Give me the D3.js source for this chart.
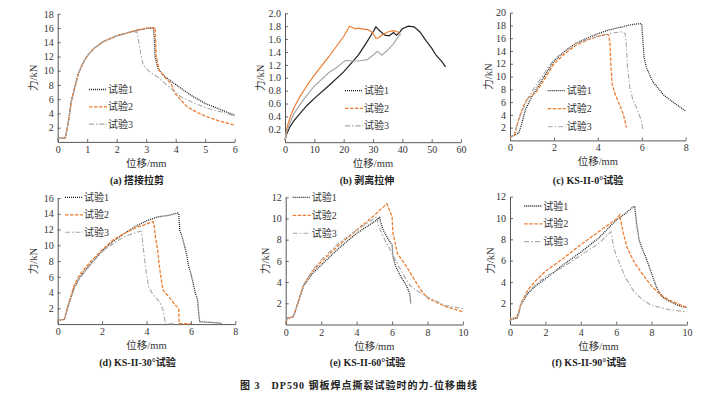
<!DOCTYPE html>
<html>
<head>
<meta charset="utf-8">
<script src="https://cdn.jsdelivr.net/npm/d3@7/dist/d3.min.js"></script>
<style>
  body { margin: 0; background: #fff; }
  svg { display: block; }
  text { font-family: "Liberation Serif", "Noto Sans CJK SC", serif; fill: #333; }
  .cap { font-weight: bold; }
</style>
</head>
<body>
<div id="fig"></div>
<script>
// ---- data ----
var seriesNames = ["试验1", "试验2", "试验3"];
var panelTitles = ["(a) 搭接拉剪", "(b) 剥离拉伸", "(c) KS-II-0°试验",
                   "(d) KS-II-30°试验", "(e) KS-II-60°试验", "(f) KS-II-90°试验"];
var figTitle = "图 3　DP590 钢板焊点撕裂试验时的力-位移曲线";
var xLabel = "位移/mm";
var yLabel = "力/kN";

var xTicksA = [0, 1, 2, 3, 4, 5, 6],  yTicksA = [2, 4, 6, 8, 10, 12, 14, 16, 18];
var xTicksB = [0, 10, 20, 30, 40, 50, 60], yTicksB = [0.2, 0.4, 0.6, 0.8, 1.0, 1.2, 1.4, 1.6, 1.8, 2.0];
var xTicksC = [0, 2, 4, 6, 8],        yTicksC = [2, 4, 6, 8, 10, 12, 14, 16, 18, 20];
var xTicksD = [0, 2, 4, 6, 8],        yTicksD = [2, 4, 6, 8, 10, 12, 14, 16];
var xTicksE = [0, 2, 4, 6, 8, 10],    yTicksE = [2, 4, 6, 8, 10, 12];
var xTicksF = [0, 2, 4, 6, 8, 10],    yTicksF = [2, 4, 6, 8, 10, 12];

// (a) lap shear
var a1 = [[0,0.5],[0.26,0.55],[0.35,2.5],[0.47,5.9],[0.6,8],[0.7,9.6],[0.85,11],[1,12.1],[1.25,13.2],[1.55,14.1],[2,14.9],[2.34,15.3],[2.7,15.7],[3.0,15.95],[3.25,16.05],[3.28,14],[3.3,12],[3.4,10.3],[3.6,9.3],[3.92,8.3],[4.5,6.6],[5,5.4],[5.28,4.95],[5.6,4.4],[6,3.75]];
var a2 = [[0,0.5],[0.26,0.55],[0.35,2.5],[0.47,5.9],[0.6,8],[0.7,9.6],[0.85,11],[1,12.1],[1.25,13.2],[1.55,14.1],[2,14.9],[2.34,15.3],[2.7,15.7],[3.0,15.95],[3.3,16.05],[3.32,14],[3.34,12],[3.45,10],[3.6,9.2],[3.86,8.1],[3.92,7.3],[4.0,6.7],[4.37,5.0],[4.7,4.2],[5.05,3.55],[5.5,2.9],[6,2.35]];
var a3 = [[0,0.5],[0.26,0.55],[0.35,2.5],[0.47,5.9],[0.6,8],[0.7,9.6],[0.85,11],[1,12.1],[1.25,13.2],[1.55,14.1],[2,14.9],[2.34,15.3],[2.68,15.5],[2.75,14],[2.82,12.2],[2.9,10.8],[3.1,9.9],[3.36,9.2],[3.7,8.0],[4.15,6.4],[4.6,5.5],[5.1,4.7],[5.73,4.0],[6,3.6]];

// (b) peel tension
var b1 = [[0,0.03],[0.5,0.12],[1.7,0.24],[3,0.33],[5,0.44],[7.5,0.57],[10,0.68],[15,0.88],[20,1.09],[25,1.35],[28,1.56],[30,1.71],[31,1.79],[32,1.74],[34,1.66],[35.5,1.65],[37,1.7],[38,1.66],[39,1.7],[40,1.76],[42,1.8],[44,1.79],[46,1.71],[48,1.58],[50,1.46],[51.5,1.35],[52.5,1.3],[53.5,1.25],[54.7,1.17]];
var b2 = [[0,0.03],[0.5,0.18],[1,0.28],[2,0.42],[3,0.53],[5,0.7],[7.5,0.88],[10,1.04],[15,1.33],[20,1.64],[22,1.8],[23,1.78],[24,1.76],[25,1.77],[27,1.75],[28,1.75],[29,1.73],[30,1.69],[31,1.61],[32,1.62],[33,1.66],[35,1.71],[37,1.73],[38.5,1.71],[39,1.69]];
var b3 = [[0,0.03],[0.5,0.15],[1.5,0.28],[3,0.44],[5,0.58],[7.5,0.73],[10,0.87],[15,1.08],[18,1.17],[20,1.25],[21,1.27],[23,1.26],[25,1.26],[28,1.28],[30,1.35],[31.5,1.41],[33,1.35],[35,1.43],[37,1.53],[39,1.66],[39.5,1.68]];

// (c) KS-II-0°
var c1 = [[0,0.5],[0.3,1.0],[0.4,1.2],[0.5,2.2],[0.7,4.8],[1.0,6.9],[1.5,9.7],[2,12.4],[2.5,14.0],[3,15.2],[3.5,16.0],[4,16.7],[4.5,17.3],[5,17.7],[5.5,18.1],[5.9,18.3],[6.0,18.2],[6.05,15.7],[6.1,13.1],[6.2,11.5],[6.5,9.2],[7,7.1],[7.5,5.8],[8,4.6]];
var c2 = [[0,0.5],[0.2,0.7],[0.4,3.4],[0.6,5.3],[0.8,6.6],[1.0,7.1],[1.2,7.6],[1.5,9.2],[2,12.0],[2.5,13.6],[3,14.9],[3.5,15.7],[4,16.3],[4.4,16.6],[4.5,16.5],[4.55,15.2],[4.6,11.5],[4.65,8.9],[4.8,7.1],[5.0,5.5],[5.15,4.2],[5.25,2.9],[5.3,2.0]];
var c3 = [[0,0.3],[0.15,0.8],[0.3,2.2],[0.5,4.2],[0.8,6.5],[1.0,7.7],[1.5,10.2],[2,12.7],[3,15.2],[4,16.3],[4.5,16.7],[4.8,16.9],[5.1,17.0],[5.25,16.7],[5.3,14.6],[5.35,11.5],[5.45,8.4],[5.6,6.3],[5.8,4.8],[6.0,2.9],[6.05,1.6]];

// (d) KS-II-30°
var d1 = [[0,0.5],[0.3,0.6],[0.5,2.6],[0.75,4.7],[1,6.0],[1.5,7.7],[2,9.3],[2.5,10.5],[3,11.5],[3.5,12.4],[4,13.1],[4.5,13.6],[5,13.8],[5.4,14.1],[5.45,14.0],[5.5,11.9],[5.6,11.1],[5.8,9.0],[5.9,7.3],[6.0,6.4],[6.1,5.2],[6.2,3.9],[6.3,3.1],[6.35,1.4],[6.4,0.3],[7,0.2],[7.4,0.1]];
var d2 = [[0,0.5],[0.3,0.6],[0.5,2.7],[0.75,5.0],[1,6.3],[1.5,8.0],[2,9.4],[2.5,10.7],[3,11.5],[3.5,12.2],[4,12.7],[4.3,13.0],[4.35,12.4],[4.4,11.1],[4.5,9.4],[4.6,6.9],[4.7,5.0],[4.75,4.3],[5,3.5],[5.3,2.4],[5.45,2.0],[5.47,0.05],[6,0.05]];
var d3s = [[0,0.5],[0.3,0.6],[0.5,2.5],[0.75,4.5],[1,5.8],[1.5,7.6],[2,9.2],[2.5,10.2],[3,11.1],[3.5,11.6],[3.75,11.8],[3.8,11.1],[3.9,8.5],[4,6.4],[4.1,4.7],[4.3,3.7],[4.6,2.8],[4.75,1.8],[4.85,0.05],[5.3,0.05]];

// (e) KS-II-60°
var e1 = [[0,0.2],[0.1,0.6],[0.4,0.7],[0.5,1.05],[1,3.6],[1.5,4.8],[2,5.6],[3,7.2],[4,8.6],[5,9.7],[5.3,10.1],[5.35,9.7],[5.5,8.9],[5.8,8.0],[6.0,7.5],[6.05,6.4],[6.2,5.5],[6.5,4.5],[6.8,3.7],[7.0,2.9],[7.05,2.0]];
var e2 = [[0,0.2],[0.1,0.6],[0.4,0.7],[0.5,1.1],[1,3.7],[1.5,5.0],[2,5.9],[3,7.5],[4,8.9],[5,10.3],[5.7,11.4],[5.8,11.0],[6.0,10.2],[6.05,8.6],[6.3,6.7],[6.8,5.5],[7.2,4.4],[7.6,3.3],[8,2.5],[9,1.7],[10,1.2]];
var e3 = [[0,0.2],[0.1,0.6],[0.4,0.7],[0.5,1.1],[1,3.7],[1.5,5.1],[2,6.1],[3,7.7],[4,8.9],[4.9,9.9],[5.15,10.2],[5.2,9.5],[5.5,8.3],[6,6.7],[6.5,5.1],[7,3.7],[7.3,3.3],[8,2.6],[9,1.8],[10,1.5]];

// (f) KS-II-90°
var f1 = [[0,0.3],[0.1,0.5],[0.4,0.6],[0.5,1.06],[0.6,1.84],[1,2.9],[1.5,3.7],[2,4.3],[3,5.6],[4,6.8],[5,8.1],[6,9.8],[6.5,10.4],[7,11.1],[7.05,11.05],[7.15,9.5],[7.3,7.9],[7.5,7.0],[7.7,6.2],[8,4.8],[8.3,3.4],[8.6,2.6],[9,2.2],[9.5,1.8],[10,1.6]];
var f2 = [[0,0.3],[0.05,0.6],[0.35,0.65],[0.5,1.2],[0.6,1.9],[1,3.25],[1.5,4.2],[2,5.0],[3,6.2],[4,7.5],[5,8.7],[6,9.9],[6.2,10.3],[6.25,9.8],[6.4,8.6],[6.6,7.3],[7,5.9],[7.5,4.7],[8,3.6],[8.5,2.8],[9,2.3],[10,1.6]];
var f3 = [[0,0.3],[0.1,0.5],[0.4,0.6],[0.5,1.1],[0.6,1.8],[1,3.1],[2,4.5],[3,5.4],[4,6.5],[5,7.6],[5.7,8.7],[5.75,8.25],[5.85,7.3],[6,6.5],[6.5,4.5],[7,3.1],[7.5,2.3],[8,1.8],[9,1.4],[10,1.2]];

// ---- layout ----
var W = 715, H = 394;
var styles = [
  { color: "#222222", dash: "1,1",     width: 1.3 },
  { color: "#ed7d31", dash: "3.5,1.5", width: 1.3 },
  { color: "#a8a8a8", dash: "5,2,1.5,2", width: 1.1 }
];

var intFmt = function(v) { return String(Math.round(v)); };
var oneFmt = function(v) { return v.toFixed(1); };

var panels = [
  { data: [a1, a2, a3], xd: [0, 6],  yd: [0, 18], xt: xTicksA, yt: yTicksA, fmt: intFmt,
    px: [57.7, 234.7], py: [141.9, 13.8], leg: [89, 89.5, 17.3], cap: [137, 180], ylx: 33 },
  { data: [b1, b2, b3], xd: [0, 60], yd: [0, 2],  xt: xTicksB, yt: yTicksB, fmt: oneFmt, solid: true,
    px: [285, 461], py: [142.2, 13.3], leg: [345, 90.7, 17.6], cap: [367, 180], ylx: 260 },
  { data: [c1, c2, c3], xd: [0, 8],  yd: [0, 20], xt: xTicksC, yt: yTicksC, fmt: intFmt,
    px: [510, 685.7], py: [140.4, 12.7], leg: [547.7, 90.7, 18], cap: [588, 180], ylx: 488 },
  { data: [d1, d2, d3s], xd: [0, 8], yd: [0, 16], xt: xTicksD, yt: yTicksD, fmt: intFmt,
    px: [57.7, 235.3], py: [324.1, 198], leg: [65, 197.3, 17.5], cap: [137.5, 362], ylx: 33 },
  { data: [e1, e2, e3], xd: [0, 10], yd: [0, 12], xt: xTicksE, yt: yTicksE, fmt: intFmt,
    px: [285.7, 463], py: [324.5, 197.3], leg: [292.7, 197.3, 18], cap: [367.5, 362], ylx: 265 },
  { data: [f1, f2, f3], xd: [0, 10], yd: [0, 12], xt: xTicksF, yt: yTicksF, fmt: intFmt,
    px: [510, 687], py: [324.6, 196.7], leg: [524.3, 206, 17.8], cap: [589, 362], ylx: 490 }
];

var svg = d3.select("#fig").append("svg")
    .attr("width", W)
    .attr("height", H);

panels.forEach(function(p, k) {
  var x = d3.scaleLinear().domain(p.xd).range(p.px);
  var y = d3.scaleLinear().domain(p.yd).range(p.py);
  var g = svg.append("g").attr("class", "panel");

  // axes
  var xAxis = g.append("g")
      .attr("transform", "translate(0," + p.py[0] + ")")
      .call(d3.axisBottom(x).tickValues(p.xt).tickSizeInner(-3).tickSizeOuter(0).tickPadding(4).tickFormat(intFmt));
  var yAxis = g.append("g")
      .attr("transform", "translate(" + p.px[0] + ",0)")
      .call(d3.axisLeft(y).tickValues(p.yt).tickSizeInner(-3).tickSizeOuter(0).tickPadding(4).tickFormat(p.fmt));
  [xAxis, yAxis].forEach(function(ax) {
    ax.attr("font-family", null).attr("font-size", null);
    ax.select(".domain").attr("stroke", "#444").attr("stroke-width", 0.9);
    ax.selectAll(".tick line").attr("stroke", "#444").attr("stroke-width", 0.8);
    ax.selectAll(".tick text").style("font-size", "10px").style("fill", "#333");
  });

  // curves (peel test data is dense, so the curves print solid)
  var line = d3.line().x(function(d) { return x(d[0]); }).y(function(d) { return y(d[1]); });
  p.data.forEach(function(s, i) {
    g.append("path")
      .datum(s)
      .attr("d", line)
      .attr("fill", "none")
      .attr("stroke", styles[i].color)
      .attr("stroke-width", p.solid ? 1.2 : styles[i].width)
      .attr("stroke-dasharray", p.solid ? null : styles[i].dash);
  });

  // legend
  seriesNames.forEach(function(name, i) {
    var ly = p.leg[1] + i * p.leg[2];
    g.append("line")
      .attr("x1", p.leg[0]).attr("x2", p.leg[0] + 18)
      .attr("y1", ly).attr("y2", ly)
      .attr("stroke", styles[i].color)
      .attr("stroke-width", styles[i].width)
      .attr("stroke-dasharray", styles[i].dash);
    g.append("text")
      .attr("x", p.leg[0] + 19)
      .attr("y", ly + 3.5)
      .style("font-size", "10px")
      .text(name);
  });

  // axis titles
  g.append("text")
    .attr("x", (p.px[0] + p.px[1]) / 2)
    .attr("y", p.py[0] + 25)
    .attr("text-anchor", "middle")
    .style("font-size", "10.5px")
    .text(xLabel);
  g.append("text")
    .attr("transform", "translate(" + (p.ylx + 4) + "," + ((p.py[0] + p.py[1]) / 2) + ") rotate(-90)")
    .attr("text-anchor", "middle")
    .style("font-size", "10.5px")
    .text(yLabel);

  // panel caption
  g.append("text")
    .attr("class", "cap")
    .attr("x", p.cap[0])
    .attr("y", p.cap[1] + 3.5)
    .attr("text-anchor", "middle")
    .style("font-size", "10px")
    .style("fill", "#222")
    .text(panelTitles[k]);
});

svg.append("text")
  .attr("class", "cap")
  .attr("x", 240)
  .attr("y", 388.5)
  .attr("textLength", 237)
  .attr("lengthAdjust", "spacing")
  .style("font-size", "10px")
  .style("fill", "#222")
  .text(figTitle);
</script>
</body>
</html>
